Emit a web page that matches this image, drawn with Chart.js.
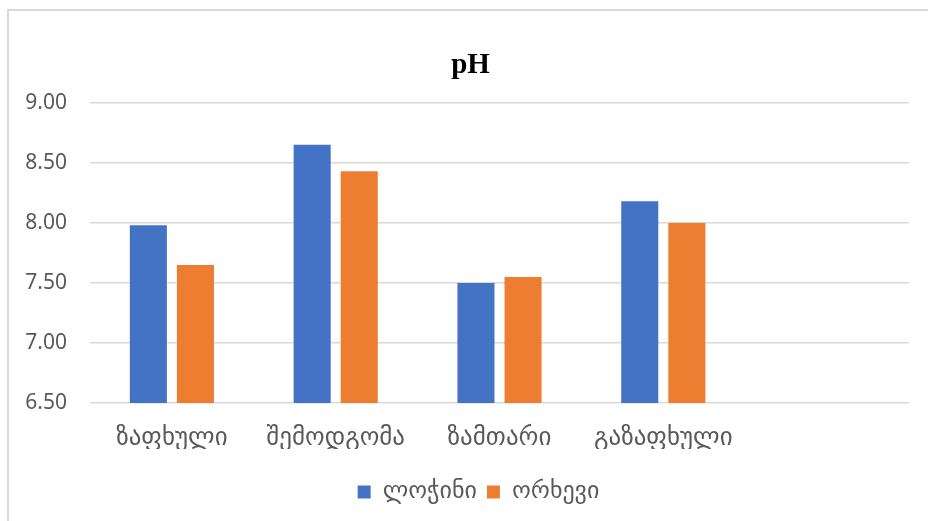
<!DOCTYPE html>
<html>
<head>
<meta charset="utf-8">
<script src="https://cdn.jsdelivr.net/npm/chart.js@4"></script>
<style>
    html, body { margin: 0; padding: 0; background: #fff; overflow: hidden; }
    #wrap { position: relative; width: 928px; height: 521px; }
    #frame { position: absolute; left: 7px; top: 9px; width: 960px; height: 560px; border: 1px solid #d9d9d9; border-width: 2px 0 0 2px; }
    canvas { position: absolute; left: 0; top: 0; }
</style>
</head>
<body>
<div id="wrap">
    <div id="frame"></div>
    <canvas id="myChart" width="928" height="521"></canvas>
</div>
<script>
// seasons (last slot is empty in the original)
const seasons = ["ზაფხული", "შემოდგომა", "ზამთარი", "გაზაფხული", ""];
const lochini = [7.98, 8.65, 7.50, 8.18, null];
const orkhevi = [7.65, 8.43, 7.55, 8.00, null];
const yMin = 6.5, yMax = 9.0, yStep = 0.5;

const tickColor = '#595959';
const geoFont = "'DejaVu Sans', sans-serif";

// title and legend sit a bit off the default spots in the original
const nudge = {
    id: 'nudge',
    afterLayout(chart) {
        shift(chart.titleBlock, 16, 0);
        shift(chart.legend, 24, 21);
    }
};

function shift(box, dx, dy) {
    if (!box) return;
    box.left += dx;
    box.right += dx;
    box.top += dy;
    box.bottom += dy;
}

graph();

function graph() {
    const ctx = document.getElementById('myChart');
    new Chart(ctx, {
        type: 'bar',
        data: {
            labels: seasons,
            datasets: [
                { label: 'ლოჭინი', data: lochini, backgroundColor: '#4472C4' },
                { label: 'ორხევი', data: orkhevi, backgroundColor: '#ED7D31' }
            ]
        },
        plugins: [nudge],
        options: {
            responsive: false,
            animation: { duration: 0 },
            categoryPercentage: 0.575,
            barPercentage: 0.787,
            layout: { padding: { left: 0, right: 19, top: 40, bottom: 28 } },
            scales: {
                x: {
                    grid: { display: false, drawTicks: false },
                    border: { display: false },
                    ticks: { color: tickColor, font: { family: geoFont, size: 25 }, padding: 20 },
                    afterFit: (scale) => { scale.height = 46; }
                },
                y: {
                    min: yMin,
                    max: yMax,
                    grid: { color: '#d9d9d9', lineWidth: 1.5, drawTicks: false },
                    border: { display: false },
                    ticks: {
                        stepSize: yStep,
                        color: tickColor,
                        padding: 23,
                        font: { family: "'Noto Sans', sans-serif", size: 21 },
                        callback: (v) => Number(v).toFixed(2)
                    },
                    afterFit: (scale) => { scale.width = 90; }
                }
            },
            plugins: {
                title: {
                    display: true,
                    text: 'pH',
                    color: '#000',
                    font: { family: "'Liberation Serif', serif", size: 29, weight: 'bold' },
                    padding: { top: 8, bottom: 20 }
                },
                legend: {
                    position: 'bottom',
                    labels: {
                        boxWidth: 13,
                        boxHeight: 13,
                        padding: 10,
                        color: tickColor,
                        font: { family: geoFont, size: 24 }
                    }
                },
                tooltip: { enabled: false }
            }
        }
    });
}
</script>
</body>
</html>
